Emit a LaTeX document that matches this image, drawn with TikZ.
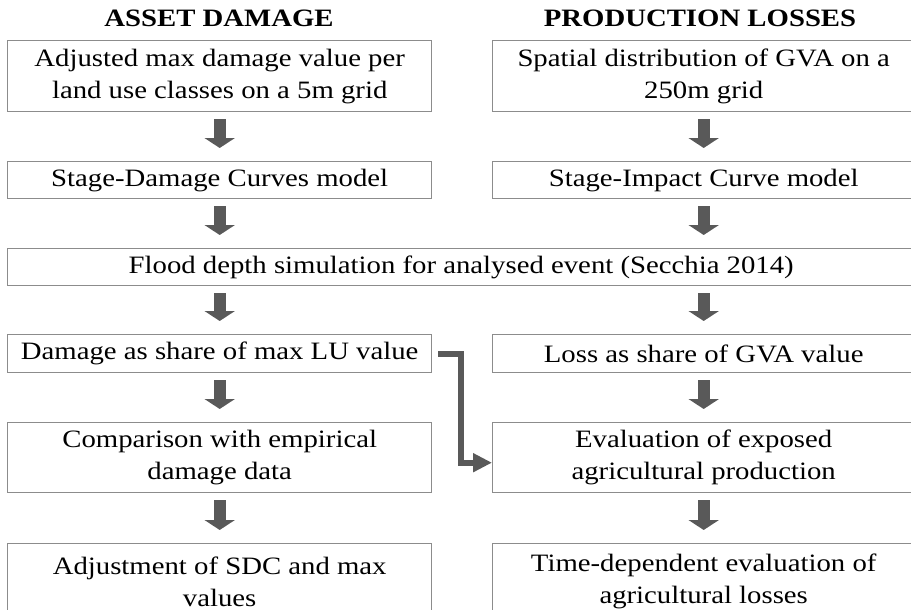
\documentclass[tikz,border=0pt]{standalone}
\usepackage{fontspec}
\setmainfont{Liberation Serif}[FakeStretch=1.15]
\usetikzlibrary{arrows.meta,calc}
\definecolor{boxgray}{HTML}{8C8C8C}
\definecolor{arrgray}{HTML}{595959}
\tikzset{
  box/.style={draw=boxgray, line width=1.4pt, anchor=north west, inner sep=0pt,
    align=center, font=\fontsize{25}{32}\selectfont, text=black},
  title/.style={font=\fontsize{25}{30}\selectfont\bfseries, anchor=center},
  blockarrow/.style={draw=arrgray, line width=12pt,
    -{Triangle[width=30pt,length=10pt]}, shorten <=7pt, shorten >=13pt},
  bendarrow/.style={draw=arrgray, line width=6pt,
    -{Triangle[width=18pt,length=19pt]}}
}
\begin{document}
\begin{tikzpicture}[x=1pt,y=-1pt]
\useasboundingbox (0,0) rectangle (911,610);
\clip (0,0) rectangle (911,610);
\node[title] (tl) at (219,18) {ASSET DAMAGE};
\node[title] (tr) at (700,18) {PRODUCTION LOSSES};
% left column
\node[box, minimum width=424pt, minimum height=71pt] (l1) at (7,40) {Adjusted max damage value per\\land use classes on a 5m grid};
\node[box, minimum width=424pt, minimum height=37pt] (l2) at (7,161) {Stage-Damage Curves model};
\node[box, minimum width=907pt, minimum height=37pt] (f) at (7,248) {Flood depth simulation for analysed event (Secchia 2014)};
\node[box, minimum width=424pt, minimum height=38pt] (l4) at (7,334) {Damage as share of max LU value};
\node[box, minimum width=424pt, minimum height=70pt] (l5) at (7,422) {Comparison with empirical\\damage data};
\node[box, minimum width=424pt, minimum height=76pt] (l6) at (7,543) {Adjustment of SDC and max\\values};
% right column
\node[box, minimum width=422pt, minimum height=71pt] (r1) at (492,40) {Spatial distribution of GVA on a\\250m grid};
\node[box, minimum width=422pt, minimum height=37pt] (r2) at (492,161) {Stage-Impact Curve model};
\node[box, minimum width=422pt, minimum height=38pt] (r4) at (492,334) {Loss as share of GVA value};
\node[box, minimum width=422pt, minimum height=70pt] (r5) at (492,422) {Evaluation of exposed\\agricultural production};
\node[box, minimum width=422pt, minimum height=76pt] (r6) at (492,543) {Time-dependent evaluation of\\agricultural losses};
% arrows
\draw[blockarrow] (l1.south) -- (l2.north);
\draw[blockarrow] (l2.south) -- (l2.south |- f.north);
\draw[blockarrow] (l2.south |- f.south) -- (l4.north);
\draw[blockarrow] (l4.south) -- (l5.north);
\draw[blockarrow] (l5.south) -- (l6.north);
\draw[blockarrow] (r1.south) -- (r2.north);
\draw[blockarrow] (r2.south) -- (r2.south |- f.north);
\draw[blockarrow] (r2.south |- f.south) -- (r4.north);
\draw[blockarrow] (r4.south) -- (r5.north);
\draw[blockarrow] (r5.south) -- (r6.north);
\coordinate (bx) at (461,0);
\draw[bendarrow] ([xshift=6pt]l4.east) -| ([yshift=-5pt]bx |- r5.west) -- ([yshift=-5pt]r5.west);
\end{tikzpicture}
\end{document}
